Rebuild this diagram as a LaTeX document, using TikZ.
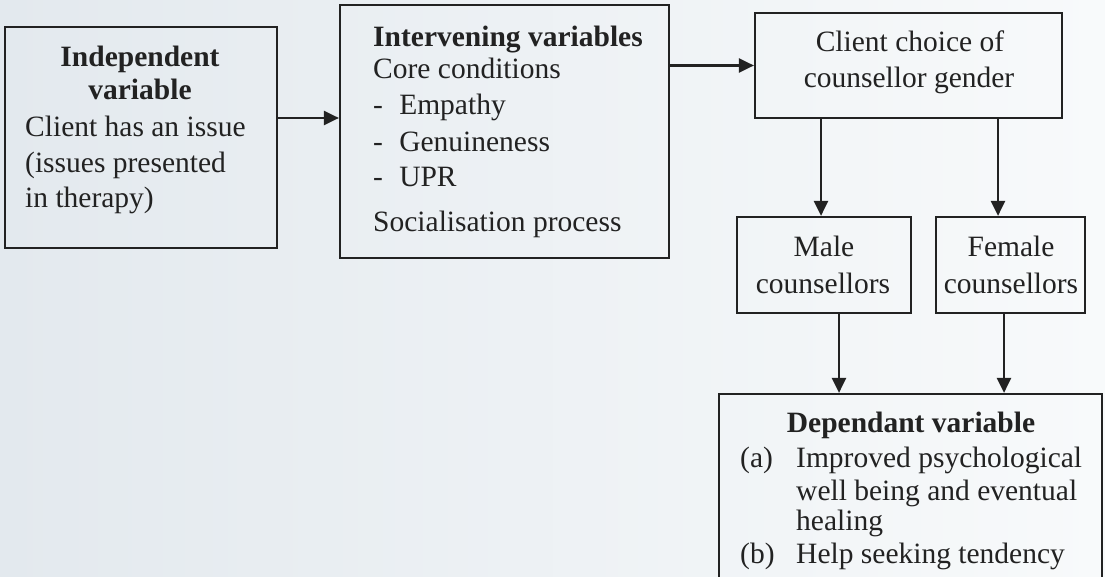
\documentclass[tikz,border=0pt]{standalone}
\usepackage{fontspec}
\setmainfont{Liberation Serif}
\usetikzlibrary{arrows.meta}
\definecolor{ink}{HTML}{222222}
\definecolor{bgl}{HTML}{E3E9EE}
\definecolor{bgr}{HTML}{F8FAFB}
\tikzset{
  box/.style={draw=ink, line width=2.2pt, rectangle, inner sep=0pt},
  txt/.style={inner sep=0pt, text=ink, font=\fontsize{29.5}{35}\selectfont},
  arr/.style={draw=ink, line width=2.4pt, -{Triangle[length=15pt,width=14pt]}}
}
\begin{document}
\begin{tikzpicture}[x=1pt,y=-1pt]
\clip (0,0) rectangle (1105,577);
\shade[left color=bgl, right color=bgr] (0,0) rectangle (1105,577);
% boxes
\node[box, minimum width=272pt, minimum height=221pt] (b1) at (141,137.5) {};
\node[box, minimum width=329pt, minimum height=253pt] (b2) at (504.5,131.5) {};
\node[box, minimum width=307pt, minimum height=105pt] (b3) at (908.5,65.5) {};
\node[box, minimum width=174pt, minimum height=96pt] (male) at (824,265) {};
\node[box, minimum width=149pt, minimum height=96pt] (fem) at (1010.5,265) {};
\node[box, minimum width=383pt, minimum height=220pt] (dep) at (910.5,504) {};
% texts box 1
\node[txt, anchor=base, font=\fontsize{29.5}{35}\selectfont\bfseries] (t11) at (140,67) {Independent};
\node[txt, anchor=base, font=\fontsize{29.5}{35}\selectfont\bfseries] (t12) at (140,100) {variable};
\node[txt, anchor=base west] (t13) at (25,137) {Client has an issue};
\node[txt, anchor=base west] (t14) at (25,173) {(issues presented};
\node[txt, anchor=base west] (t15) at (25,208) {in therapy)};
% texts box 2
\node[txt, anchor=base west, font=\fontsize{29.5}{35}\selectfont\bfseries] (t21) at (373,47) {Intervening variables};
\node[txt, anchor=base west] (t22) at (373,79) {Core conditions};
\node[txt, anchor=base west] (t23) at (373,115) {-\hspace{0.55em}Empathy};
\node[txt, anchor=base west] (t24) at (373,152) {-\hspace{0.55em}Genuineness};
\node[txt, anchor=base west] (t25) at (373,187) {-\hspace{0.55em}UPR};
\node[txt, anchor=base west] (t26) at (373,232) {Socialisation process};
% texts box 3
\node[txt, anchor=base] (t31) at (910,52) {Client choice of};
\node[txt, anchor=base] (t32) at (909,88) {counsellor gender};
% male / female
\node[txt, anchor=base] (t41) at (824,257) {Male};
\node[txt, anchor=base] (t42) at (823,293) {counsellors};
\node[txt, anchor=base] (t51) at (1011,257) {Female};
\node[txt, anchor=base] (t52) at (1011,293) {counsellors};
% dependant
\node[txt, anchor=base, font=\fontsize{29.5}{35}\selectfont\bfseries] (t61) at (911,432) {Dependant variable};
\node[txt, anchor=base west] (t62) at (740,467) {(a)};
\node[txt, anchor=base west] (t63) at (796,467) {Improved psychological};
\node[txt, anchor=base west] (t64) at (796,500) {well being and eventual};
\node[txt, anchor=base west] (t65) at (796,530) {healing};
\node[txt, anchor=base west] (t66) at (740,563) {(b)};
\node[txt, anchor=base west] (t67) at (796,563) {Help seeking tendency};
% connectors
\draw[arr] (b1.east |- 0,118) -- (b2.west |- 0,118);
\draw[arr] (b2.east |- b3.west) -- (b3.west);
\draw[arr] (b3.south -| 821,0) -- (male.north -| 821,0);
\draw[arr] (b3.south -| 998,0) -- (fem.north -| 998,0);
\draw[arr] (male.south -| 839,0) -- (dep.north -| 839,0);
\draw[arr] (fem.south -| 1004,0) -- (dep.north -| 1004,0);
\end{tikzpicture}
\end{document}
